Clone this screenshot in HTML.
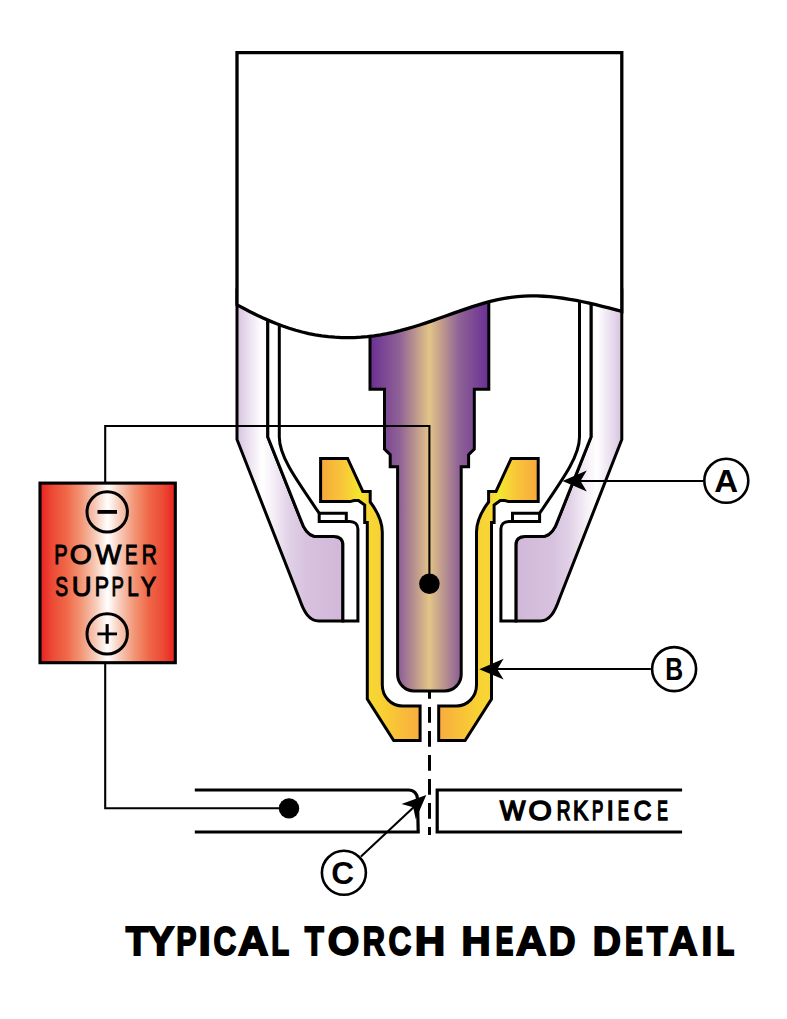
<!DOCTYPE html>
<html><head><meta charset="utf-8"><style>
html,body{margin:0;padding:0;background:#fff;}
svg{display:block;}
text{font-family:"Liberation Sans",sans-serif;}
</style></head><body>
<svg width="787" height="1019" viewBox="0 0 787 1019">
<defs>
<linearGradient id="gEl" gradientUnits="userSpaceOnUse" x1="370" y1="0" x2="488.80" y2="0">
<stop offset="0" stop-color="#6a2f93"/><stop offset="0.25" stop-color="#8f6296"/><stop offset="0.5" stop-color="#e3c487"/><stop offset="0.75" stop-color="#8f6296"/><stop offset="1" stop-color="#6a2f93"/>
</linearGradient>
<linearGradient id="gNzL" gradientUnits="userSpaceOnUse" x1="320" y1="0" x2="420" y2="0">
<stop offset="0" stop-color="#f7a83b"/><stop offset="0.22" stop-color="#f8c53a"/><stop offset="0.40" stop-color="#f4e72c"/><stop offset="0.47" stop-color="#f7d834"/><stop offset="0.62" stop-color="#f8d034"/><stop offset="1" stop-color="#f8ac3e"/>
</linearGradient>
<linearGradient id="gNzR" gradientUnits="userSpaceOnUse" x1="538.80" y1="0" x2="438.80" y2="0">
<stop offset="0" stop-color="#f7a83b"/><stop offset="0.22" stop-color="#f8c53a"/><stop offset="0.40" stop-color="#f4e72c"/><stop offset="0.47" stop-color="#f7d834"/><stop offset="0.62" stop-color="#f8d034"/><stop offset="1" stop-color="#f8ac3e"/>
</linearGradient>
<linearGradient id="gShL" gradientUnits="userSpaceOnUse" x1="237" y1="0" x2="345" y2="0">
<stop offset="0" stop-color="#d6c2de"/><stop offset="0.083" stop-color="#e6d9ec"/><stop offset="0.231" stop-color="#ffffff"/><stop offset="0.324" stop-color="#f6f0f8"/><stop offset="0.49" stop-color="#e0d0e6"/><stop offset="0.64" stop-color="#d7c2de"/><stop offset="0.926" stop-color="#d2b9da"/><stop offset="1" stop-color="#d1b8d9"/>
</linearGradient>
<linearGradient id="gShR" gradientUnits="userSpaceOnUse" x1="621.80" y1="0" x2="513.80" y2="0">
<stop offset="0" stop-color="#d6c2de"/><stop offset="0.083" stop-color="#e6d9ec"/><stop offset="0.231" stop-color="#ffffff"/><stop offset="0.324" stop-color="#f6f0f8"/><stop offset="0.49" stop-color="#e0d0e6"/><stop offset="0.64" stop-color="#d7c2de"/><stop offset="0.926" stop-color="#d2b9da"/><stop offset="1" stop-color="#d1b8d9"/>
</linearGradient>
<linearGradient id="gPs" gradientUnits="userSpaceOnUse" x1="40" y1="0" x2="175.3" y2="0">
<stop offset="0" stop-color="#e82020"/><stop offset="0.09" stop-color="#ec4a35"/><stop offset="0.196" stop-color="#f06848"/><stop offset="0.3" stop-color="#f29474"/><stop offset="0.406" stop-color="#f7c8b5"/><stop offset="0.5" stop-color="#ffffff"/><stop offset="0.594" stop-color="#f7c8b5"/><stop offset="0.7" stop-color="#f29474"/><stop offset="0.804" stop-color="#f06848"/><stop offset="0.91" stop-color="#ec4a35"/><stop offset="1" stop-color="#e82020"/>
</linearGradient>
</defs>
<g stroke="#000" stroke-width="3.0" stroke-linejoin="miter" stroke-miterlimit="10">
<path d="M 429.5,683 L 429.5,835" stroke="#000" stroke-width="3" stroke-dasharray="15.8 8.2" fill="none"/>
<path d="M 429.40,288.00 L 370.00,288.00 L 370.00,389.30 L 384.50,389.30 L 384.50,449.20 L 390.20,454.60 L 390.20,466.80 L 397.60,466.80 L 397.60,674.50 C 397.60,683.60 405.00,691.00 414.10,691.00 L 429.40,691.00 L 444.70,691.00 C 453.80,691.00 461.20,683.60 461.20,674.50 L 461.20,466.80 L 468.60,466.80 L 468.60,454.60 L 474.30,449.20 L 474.30,389.30 L 488.80,389.30 L 488.80,288.00 L 429.40,288.00 Z" fill="url(#gEl)"/>
<path d="M 237,290 L 237,439.5 L 299.5,599 C 304,612 309,621 319,621 L 342.9,621 L 342.9,545 C 342.9,539 339,536.4 334,536.4 L 314,536.2 C 308,535 303.5,528 300.8,520 L 267.8,437 L 267.8,290 Z" fill="url(#gShL)"/>
<path d="M 621.80,290 L 621.80,439.5 L 559.30,599 C 554.80,612 549.80,621 539.80,621 L 515.90,621 L 515.90,545 C 515.90,539 519.80,536.4 524.80,536.4 L 544.80,536.2 C 550.80,535 555.30,528 558.00,520 L 591.00,437 L 591.00,290 Z" fill="url(#gShR)"/>
<path d="M 279.3,290 L 279.3,437 C 279.3,456 294.8,477.5 319.2,513.2 L 346.3,513.2 L 346.3,521.4 L 350,521.4 C 355,521.4 357.9,524.5 357.9,529 L 357.9,621 L 342.9,621 L 342.9,545 C 342.9,539 339,536.4 334,536.4 L 314,536.2 C 308,535 303.5,528 300.8,520 L 267.8,437 L 267.8,290 Z" fill="#fff"/>
<path d="M 579.50,290 L 579.50,437 C 579.50,456 564.00,477.5 539.60,513.2 L 512.50,513.2 L 512.50,521.4 L 508.80,521.4 C 503.80,521.4 500.90,524.5 500.90,529 L 500.90,621 L 515.90,621 L 515.90,545 C 515.90,539 519.80,536.4 524.80,536.4 L 544.80,536.2 C 550.80,535 555.30,528 558.00,520 L 591.00,437 L 591.00,290 Z" fill="#fff"/>
<path d="M 319.2,513.2 L 319.2,521.4 L 346.3,521.4" fill="none"/>
<path d="M 539.60,513.2 L 539.60,521.4 L 512.50,521.4" fill="none"/>
<path d="M 320.6,458.4 L 347.6,458.4 L 362.8,491.4 L 370.2,491.4 L 370.2,502 C 375.5,509 382.3,519 382.3,532 L 382.3,685 C 382.3,696.6 391.2,706 402.5,706 L 420.1,706 L 420.1,740.6 L 393.7,740.6 L 367.3,699 L 367.3,522.4 L 364.7,522.4 L 364.7,505.1 L 358.5,500.6 L 354,500.6 L 350.2,501.6 L 320.6,501.6 Z" fill="url(#gNzL)"/>
<path d="M 538.20,458.4 L 511.20,458.4 L 496.00,491.4 L 488.60,491.4 L 488.60,502 C 483.30,509 476.50,519 476.50,532 L 476.50,685 C 476.50,696.6 467.60,706 456.30,706 L 438.70,706 L 438.70,740.6 L 465.10,740.6 L 491.50,699 L 491.50,522.4 L 494.10,522.4 L 494.10,505.1 L 500.30,500.6 L 504.80,500.6 L 508.60,501.6 L 538.20,501.6 Z" fill="url(#gNzR)"/>
<path d="M 237,52.7 L 621.8,52.7 L 621.8,311.38 L 621.80,311.38 615.28,309.65 608.76,307.94 602.23,306.29 595.71,304.69 589.19,303.17 582.67,301.75 576.15,300.45 569.62,299.27 563.10,298.25 556.58,297.39 550.06,296.71 543.54,296.23 537.01,295.97 530.49,295.95 523.97,296.16 517.45,296.63 510.93,297.35 504.40,298.35 497.88,299.61 491.36,301.14 484.84,302.89 478.32,304.83 471.79,306.91 465.27,309.10 458.75,311.36 452.23,313.66 445.71,315.98 439.18,318.30 432.66,320.59 426.14,322.82 419.62,324.97 413.09,327.02 406.57,328.94 400.05,330.71 393.53,332.29 387.01,333.68 380.48,334.87 373.96,335.86 367.44,336.63 360.92,337.19 354.40,337.53 347.87,337.65 341.35,337.55 334.83,337.21 328.31,336.64 321.79,335.84 315.26,334.79 308.74,333.52 302.22,332.00 295.70,330.25 289.18,328.26 282.65,326.03 276.13,323.57 269.61,320.88 263.09,317.99 256.57,314.92 250.04,311.69 243.52,308.32 237.00,304.84 Z" fill="#fff" stroke-width="3.3"/>
</g>
<!-- wires -->
<g stroke="#000" stroke-width="2.1" fill="none">
<path d="M 105.2,483 L 105.2,426 L 429.4,426 L 429.4,583.7"/>
<path d="M 105.2,662 L 105.2,808.3 L 289,808.3"/>
<path d="M 378.80,669 L 0,0" stroke="none"/>
<path d="M 575,481 L 703.2,481"/>
<path d="M 492,669 L 650.8,669"/>
<path d="M 361,856.6 L 416,805"/>
</g>
<circle cx="429.4" cy="583.7" r="10.3" fill="#000"/>
<circle cx="289" cy="808.4" r="10.2" fill="#000"/>
<!-- power supply -->
<rect x="40" y="483.1" width="135.3" height="179.6" fill="url(#gPs)" stroke="#000" stroke-width="3.1"/>
<circle cx="107.2" cy="511.9" r="20.2" fill="none" stroke="#000" stroke-width="3"/>
<rect x="97.5" y="510" width="19.5" height="3.8" fill="#000"/>
<circle cx="107.2" cy="633.9" r="20.2" fill="none" stroke="#000" stroke-width="3"/>
<rect x="97.4" y="632.5" width="19.6" height="2.8" fill="#000"/>
<rect x="105.6" y="624.1" width="3.1" height="19.6" fill="#000"/>
<g font-size="28.2" stroke="#000" stroke-width="1.1">
<text transform="matrix(0.7077,0,0,1,54.15,564.30)" x="0" y="0">P</text>
<text transform="matrix(1.0074,0,0,1,69.81,564.30)" x="0" y="0">O</text>
<text transform="matrix(0.9710,0,0,1,95.41,564.30)" x="0" y="0">W</text>
<text transform="matrix(0.6714,0,0,1,125.12,564.30)" x="0" y="0">E</text>
<text transform="matrix(0.7454,0,0,1,141.79,564.30)" x="0" y="0">R</text>
</g>
<g font-size="28.2" stroke="#000" stroke-width="1.1">
<text transform="matrix(0.6807,0,0,1,55.20,596.30)" x="0" y="0">S</text>
<text transform="matrix(0.9758,0,0,1,71.71,596.30)" x="0" y="0">U</text>
<text transform="matrix(0.7574,0,0,1,94.76,596.30)" x="0" y="0">P</text>
<text transform="matrix(0.6580,0,0,1,111.44,596.30)" x="0" y="0">P</text>
<text transform="matrix(0.7315,0,0,1,127.31,596.30)" x="0" y="0">L</text>
<text transform="matrix(0.8141,0,0,1,140.74,596.30)" x="0" y="0">Y</text>
</g>
<!-- workpiece -->
<g stroke="#000" stroke-width="3.2" fill="none" stroke-linejoin="miter">
<path d="M 194.8,790 L 408.6,790 C 414,790 417.5,794 417.5,799 L 418.2,832 L 194.8,832"/>
<path d="M 682.1,790 L 437.2,790 L 437.2,832 L 682.1,832"/>
</g>
<g font-size="27.8" stroke="#000" stroke-width="1.6">
<text transform="matrix(0.9630,0,0,1,500.05,819.90)" x="0" y="0">W</text>
<text transform="matrix(1.0740,0,0,1,528.55,819.90)" x="0" y="0">O</text>
<text transform="matrix(0.6848,0,0,1,556.69,819.90)" x="0" y="0">R</text>
<text transform="matrix(0.8205,0,0,1,573.09,819.90)" x="0" y="0">K</text>
<text transform="matrix(0.6099,0,0,1,592.10,819.90)" x="0" y="0">P</text>
<text transform="matrix(0.9063,0,0,1,606.80,819.90)" x="0" y="0">I</text>
<text transform="matrix(0.6060,0,0,1,617.80,819.90)" x="0" y="0">E</text>
<text transform="matrix(0.8799,0,0,1,633.66,819.90)" x="0" y="0">C</text>
<text transform="matrix(0.5700,0,0,1,657.36,819.90)" x="0" y="0">E</text>
</g>
<!-- arrows -->
<path d="M 562.50,481.00 L 586.80,491.40 L 580.50,481.00 L 586.80,470.60 Z" fill="#000"/>
<path d="M 479.30,669.20 L 503.60,679.60 L 497.30,669.20 L 503.60,658.80 Z" fill="#000"/>
<path d="M 426.30,795.00 L 401.49,804.11 L 413.21,807.35 L 415.76,819.24 Z" fill="#000"/>
<g fill="#fff" stroke="#000" stroke-width="2.6">
<circle cx="726.3" cy="480.8" r="22"/>
<circle cx="674.1" cy="669.1" r="22"/>
<circle cx="343.9" cy="872.8" r="22"/>
</g>
<g font-weight="bold" font-size="31.4">
<text x="714.3" y="491.7" textLength="23.9" lengthAdjust="spacingAndGlyphs">A</text>
<text x="665.2" y="679.9" textLength="17.9" lengthAdjust="spacingAndGlyphs">B</text>
<text x="331.3" y="884" textLength="22.8" lengthAdjust="spacingAndGlyphs">C</text>
</g>
<g font-size="40" font-weight="bold" stroke="#000" stroke-width="1.8">
<text transform="matrix(0.9269,0,0,1,125.82,955.00)" x="0" y="0">T</text>
<text transform="matrix(1.0239,0,0,1,146.92,955.00)" x="0" y="0">Y</text>
<text transform="matrix(0.7611,0,0,1,176.25,955.00)" x="0" y="0">P</text>
<text transform="matrix(1.1109,0,0,1,198.43,955.00)" x="0" y="0">I</text>
<text transform="matrix(0.7871,0,0,1,213.62,955.00)" x="0" y="0">C</text>
<text transform="matrix(1.0511,0,0,1,238.10,955.00)" x="0" y="0">A</text>
<text transform="matrix(0.7345,0,0,1,271.20,955.00)" x="0" y="0">L</text>
<text transform="matrix(0.7809,0,0,1,304.85,955.00)" x="0" y="0">T</text>
<text transform="matrix(1.0138,0,0,1,327.85,955.00)" x="0" y="0">O</text>
<text transform="matrix(0.7686,0,0,1,362.64,955.00)" x="0" y="0">R</text>
<text transform="matrix(0.7906,0,0,1,388.61,955.00)" x="0" y="0">C</text>
<text transform="matrix(1.0547,0,0,1,414.73,955.00)" x="0" y="0">H</text>
<text transform="matrix(1.0073,0,0,1,461.61,955.00)" x="0" y="0">H</text>
<text transform="matrix(0.6724,0,0,1,495.41,955.00)" x="0" y="0">E</text>
<text transform="matrix(1.0511,0,0,1,515.90,955.00)" x="0" y="0">A</text>
<text transform="matrix(0.9267,0,0,1,548.65,955.00)" x="0" y="0">D</text>
<text transform="matrix(0.9760,0,0,1,592.77,955.00)" x="0" y="0">D</text>
<text transform="matrix(0.6765,0,0,1,624.90,955.00)" x="0" y="0">E</text>
<text transform="matrix(0.8519,0,0,1,646.78,955.00)" x="0" y="0">T</text>
<text transform="matrix(0.9987,0,0,1,668.70,955.00)" x="0" y="0">A</text>
<text transform="matrix(0.9654,0,0,1,701.59,955.00)" x="0" y="0">I</text>
<text transform="matrix(0.7390,0,0,1,716.19,955.00)" x="0" y="0">L</text>
</g>
</svg>
</body></html>
